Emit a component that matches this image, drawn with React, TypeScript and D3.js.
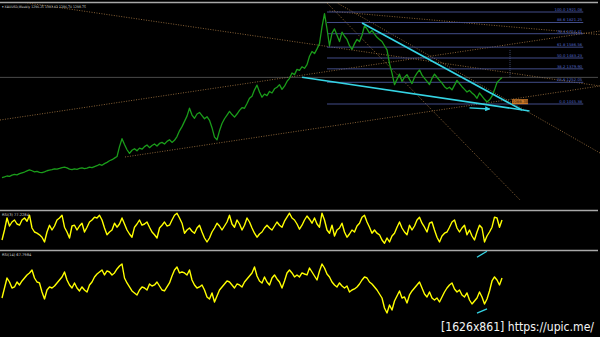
import React from 'react';
import * as d3 from 'd3';

// ---- data ----
const priceClose: number[] = [
  345, 352, 360, 356, 368, 375, 370, 382, 390, 398,
  408, 418, 410, 400, 405, 395, 392, 400, 410, 415,
  420, 428, 425, 432, 440, 445, 438, 425, 420, 428,
  424, 432, 438, 430, 435, 445, 440, 450, 458, 470,
  462, 478, 490, 505, 515, 530, 545, 640, 715, 660,
  610, 575, 605, 620, 600, 625, 615, 640, 655, 630,
  650, 665, 645, 670, 680, 665, 690, 705, 680, 700,
  735, 790, 830, 880, 930, 1005, 940, 910, 950, 965,
  935, 905, 925, 890, 820, 730, 705, 790, 860, 905,
  940, 975, 945, 920, 950, 985, 1010, 1005, 1050, 1100,
  1120, 1180, 1225, 1160, 1110, 1140, 1125, 1165, 1150, 1190,
  1205, 1230, 1185, 1215, 1260, 1290, 1340, 1325, 1375, 1365,
  1400, 1385, 1420, 1500, 1545, 1525, 1570, 1620, 1780, 1905,
  1760, 1600, 1720, 1760, 1700, 1640, 1730, 1690, 1660, 1600,
  1565, 1620, 1660, 1640, 1700, 1790, 1760, 1720, 1745, 1710,
  1680, 1660, 1640, 1600, 1560, 1430, 1340, 1230, 1280, 1330,
  1260, 1300, 1325, 1280, 1240, 1300, 1340, 1370, 1320, 1290,
  1260, 1230, 1290, 1330, 1300, 1270, 1245, 1210, 1190, 1205,
  1180, 1225, 1270, 1240, 1210, 1185, 1160, 1175, 1150, 1130,
  1100, 1150, 1120, 1090, 1065, 1085, 1120, 1180, 1250, 1275, 1298,
];

const rsiFast: number[] = [
  25, 50, 80, 60, 70, 75, 65, 62, 75, 80,
  72, 87, 55, 45, 42, 38, 32, 20, 45, 62,
  50, 60, 75, 80, 87, 57, 45, 30, 60, 62,
  50, 60, 67, 45, 57, 70, 75, 82, 80, 87,
  75, 55, 38, 45, 50, 67, 57, 65, 80, 65,
  50, 40, 32, 57, 65, 75, 62, 65, 70, 57,
  45, 38, 30, 55, 62, 70, 60, 62, 75, 87,
  92, 80, 67, 42, 50, 55, 47, 42, 55, 62,
  45, 30, 20, 30, 45, 55, 67, 60, 50, 60,
  70, 87, 65, 57, 75, 65, 50, 62, 80, 70,
  55, 42, 32, 40, 45, 55, 62, 55, 50, 60,
  70, 62, 57, 72, 82, 92, 80, 75, 65, 52,
  62, 75, 85, 77, 67, 80, 65, 57, 92, 75,
  50, 42, 62, 35, 50, 55, 67, 45, 32, 40,
  50, 45, 60, 67, 82, 87, 70, 57, 42, 50,
  42, 38, 25, 17, 30, 20, 35, 42, 57, 70,
  55, 45, 38, 62, 50, 60, 75, 82, 67, 57,
  45, 67, 70, 50, 32, 20, 35, 42, 45, 57,
  70, 75, 55, 45, 55, 62, 38, 50, 35, 25,
  45, 62, 55, 20, 35, 45, 57, 82, 80, 57, 75,
];

const rsiSlow: number[] = [
  40, 52.5, 65, 60, 52.5, 53.8, 60, 56.3, 61.3, 65,
  68.8, 71.3, 75, 65, 60, 58.8, 47.5, 38.8, 50, 53.8,
  52.5, 55, 58.8, 62.5, 66.3, 72.5, 62.5, 56.3, 52.5, 58.8,
  52.5, 48.8, 53.8, 50, 47.5, 56.3, 60, 66.3, 70, 72.5,
  75, 68.8, 73.8, 72.5, 68.8, 71.3, 76.3, 80, 82.5, 65,
  58.8, 53.8, 48.8, 46.3, 43.8, 50, 53.8, 52.5, 50, 57.5,
  55, 56.3, 60, 55, 50, 48.8, 53.8, 58.8, 67.5, 75,
  78.8, 71.3, 72.5, 71.3, 68.8, 75, 62.5, 56.3, 52.5, 53.8,
  56.3, 50, 41.3, 38.8, 46.3, 35, 42.5, 50, 53.8, 57.5,
  61.3, 60, 56.3, 52.5, 57.5, 56.3, 53.8, 60, 63.8, 67.5,
  71.3, 78.8, 67.5, 61.3, 58.8, 66.3, 60, 56.3, 65, 68.8,
  63.8, 60, 52.5, 61.3, 71.3, 75, 71.3, 66.3, 68.8, 66.3,
  71.3, 70, 68.8, 77.5, 72.5, 67.5, 62.5, 73.8, 82.5, 77.5,
  70, 66.3, 60, 56.3, 53.8, 58.8, 55, 52.5, 55, 47.5,
  50, 51.3, 53.8, 57.5, 62.5, 66.3, 65, 60, 57.5, 53.8,
  50, 45, 40, 27.5, 21.3, 31.3, 25, 36.3, 42.5, 48.8,
  40, 41.3, 33.8, 43.8, 48.8, 52.5, 56.3, 60, 52.5, 45,
  41.3, 47.5, 40, 37.5, 40, 35, 41.3, 47.5, 52.5, 56.3,
  58.8, 51.3, 47.5, 50, 43.8, 41.3, 46.3, 37.5, 32.5, 36.3,
  40, 47.5, 41.3, 32.5, 38.8, 48.8, 61.3, 66.3, 62.5, 56.3, 65,
];

const fibHigh = 1921.08;
const fibLow = 1045.38;
const fibLevels = [100, 88.6, 76.4, 61.8, 50, 38.2, 23.6, 0];
const fibStartBar = 130;
const fibEndBar = 232.5;
const bidPrice = 1298.75;
const alertPrice = 1066.38;
const alertBar = 204;

const titleText = 'XAUUSD,Weekly  1296.25 1303.02 1286.70 1298.75';
const fastLabel = 'RSI(3) 77.2284';
const slowLabel = 'RSI(14) 67.7984';
const watermark = '[1626x861] https://upic.me/';

// trendlines: [bar1, price1, bar2, price2]
const cyanLines: number[][] = [
  [144, 1816, 208, 988],
  [120, 1300, 211, 979],
];
const cyanArrows: number[][] = [[187, 1008, 195, 998]];
// pane arrows on slow RSI scale
const slowArrows: number[][] = [
  [190, 91, 194, 98.5],
  [190, 21, 194, 26.5],
];
const dottedLines: number[][] = [
  [-0.8, 2045, 239.2, 1217],
  [-0.8, 893, 239.2, 1740],
  [49.2, 541, 239.2, 1217],
  [130, 2007, 207.2, 132],
  [131, 1930, 239.2, 1706],
  [132, 2035, 239.2, 579],
];

export default function App() {
  const N = priceClose.length;
  const x = d3.scaleLinear().domain([0, N - 1]).range([2, 502]);
  const yP = d3.scaleLinear().domain([fibLow, fibHigh]).range([104, 12]);
  const yF = d3.scaleLinear().domain([0, 100]).range([250, 210]);
  const yS = d3.scaleLinear().domain([0, 100]).range([330, 250]);

  const lineP = d3.line<number>().x((_, i) => x(i)).y((d) => yP(d));
  const lineF = d3.line<number>().x((_, i) => x(i)).y((d) => yF(d));
  const lineS = d3.line<number>().x((_, i) => x(i)).y((d) => yS(d));

  const cyan = '#35d4e4';
  const dotted = '#a87a44';
  const font = 'DejaVu Sans, sans-serif';

  return (
    <svg width={600} height={337} style={{ position: 'absolute', left: 0, top: 0, background: '#000' }}>
      <defs>
        <marker id="arr" viewBox="0 0 6 6" refX="5" refY="3" markerWidth="4" markerHeight="4" orient="auto">
          <path d="M0,0L6,3L0,6z" fill={cyan} />
        </marker>
        <clipPath id="mainClip">
          <rect x={0} y={3} width={600} height={206} />
        </clipPath>
      </defs>
      <rect x={0} y={0} width={600} height={337} fill="#000" />

      <line x1={0} x2={598} y1={2.5} y2={2.5} stroke="#a8a8a8" strokeWidth={1.5} />
      <line x1={0} x2={598} y1={210.5} y2={210.5} stroke="#a8a8a8" strokeWidth={1.5} />
      <line x1={0} x2={598} y1={250.5} y2={250.5} stroke="#a8a8a8" strokeWidth={1.5} />

      <g clipPath="url(#mainClip)">
        {dottedLines.map((l, i) => (
          <line key={i} x1={x(l[0])} y1={yP(l[1])} x2={x(l[2])} y2={yP(l[3])}
            stroke={dotted} strokeWidth={0.8} strokeDasharray="1 1.5" />
        ))}
        <line x1={0} x2={598} y1={yP(bidPrice)} y2={yP(bidPrice)} stroke="#7a7a7a" strokeWidth={0.6} />
        {fibLevels.map((lv) => {
          const p = fibLow + (fibHigh - fibLow) * lv / 100;
          const yy = yP(p);
          return (
            <g key={lv}>
              <line x1={x(fibStartBar)} x2={x(fibEndBar)} y1={yy} y2={yy} stroke="#4a5698" strokeWidth={0.9} />
              <text x={x(fibEndBar) - 1} y={yy - 1} fontSize={3.8} fill="#5066c8" textAnchor="end" fontFamily={font}>
                {`${lv.toFixed(1)} ${p.toFixed(2)}`}
              </text>
            </g>
          );
        })}
        <line x1={x(203.2)} x2={x(203.2)} y1={yP(1560)} y2={yP(bidPrice)} stroke="#6a7ab0" strokeWidth={0.6} strokeDasharray="1 1" />

        <path d={lineP(priceClose) || ''} fill="none" stroke="#1a9c1a" strokeWidth={1.3} strokeLinejoin="round" />

        {cyanLines.map((l, i) => (
          <line key={i} x1={x(l[0])} y1={yP(l[1])} x2={x(l[2])} y2={yP(l[3])} stroke={cyan} strokeWidth={1.6} />
        ))}
        {cyanArrows.map((l, i) => (
          <line key={i} x1={x(l[0])} y1={yP(l[1])} x2={x(l[2])} y2={yP(l[3])} stroke={cyan} strokeWidth={1.3} markerEnd="url(#arr)" />
        ))}

        <rect x={x(alertBar)} y={yP(alertPrice) - 2.6} width={16} height={5} fill="#c8782a" />
        <text x={x(alertBar) + 8} y={yP(alertPrice) + 1.5} fontSize={4} fill="#3a1a00" textAnchor="middle" fontFamily={font}>
          {alertPrice.toFixed(2)}
        </text>
      </g>

      <text x={2} y={7.5} fontSize={3.3} fill="#d0d0d0" fontFamily={font} textLength={84} lengthAdjust="spacingAndGlyphs">{'\u25BE ' + titleText}</text>

      <path d={lineF(rsiFast) || ''} fill="none" stroke="#ffff00" strokeWidth={1.4} strokeLinejoin="round" />
      <text x={2} y={215.5} fontSize={3.6} fill="#d0d0d0" fontFamily={font}>{fastLabel}</text>

      <path d={lineS(rsiSlow) || ''} fill="none" stroke="#ffff00" strokeWidth={1.4} strokeLinejoin="round" />
      <text x={2} y={255.5} fontSize={3.6} fill="#d0d0d0" fontFamily={font}>{slowLabel}</text>

      {slowArrows.map((l, i) => (
        <line key={i} x1={x(l[0])} y1={yS(l[1])} x2={x(l[2])} y2={yS(l[3])} stroke={cyan} strokeWidth={1.3} />
      ))}

      <text x={441} y={331} fontSize={12.5} fill="#f4f4f4"
        fontFamily="'Liberation Sans Narrow', 'DejaVu Sans Condensed', 'Liberation Sans', sans-serif"
        textLength={153} lengthAdjust="spacingAndGlyphs">
        {watermark}
      </text>
    </svg>
  );
}
